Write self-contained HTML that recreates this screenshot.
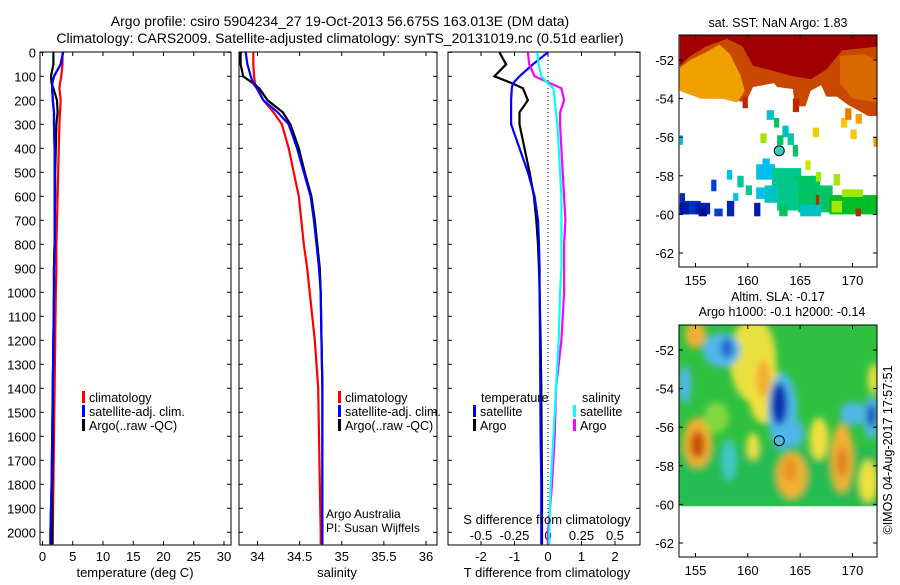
<!DOCTYPE html>
<html><head><meta charset="utf-8"><style>
body{margin:0;background:#fff;}
svg text{font-family:"Liberation Sans",sans-serif;fill:#000;}
</style></head><body>
<svg id="fig" width="900" height="580" viewBox="0 0 900 580" xmlns="http://www.w3.org/2000/svg">
<text x="340" y="26" font-size="14" text-anchor="middle">Argo profile: csiro 5904234_27 19-Oct-2013 56.675S 163.013E (DM data)</text>
<text x="340" y="43" font-size="14" text-anchor="middle">Climatology: CARS2009. Satellite-adjusted climatology: synTS_20131019.nc (0.51d earlier)</text>
<defs>
<clipPath id="c1"><rect x="40" y="52" width="191" height="493"/></clipPath>
<clipPath id="c2"><rect x="239" y="52" width="198" height="493"/></clipPath>
<clipPath id="c3"><rect x="448" y="52" width="192" height="493"/></clipPath>
<clipPath id="m1"><rect x="679" y="35" width="198" height="232"/></clipPath>
<clipPath id="m2"><rect x="679" y="325" width="198" height="232"/></clipPath>
<filter id="blur" x="-50%" y="-50%" width="200%" height="200%"><feGaussianBlur stdDeviation="3.5"/></filter>
</defs>
<g id="root"></g>
</svg>
<script>
// ---- profile data ----
const depths = [0,50,100,130,150,200,250,300,400,500,600,700,800,900,1000,1200,1400,1600,1800,2000,2050];
const tempClim = [3.3,3.3,3.1,2.9,2.8,3.0,2.9,2.8,2.7,2.6,2.5,2.4,2.3,2.3,2.2,2.1,2.0,1.9,1.8,1.7,1.7];
const tempSat  = [3.4,3.0,1.9,1.6,1.6,1.7,1.9,1.9,2.0,2.0,2.0,2.0,2.0,1.9,1.9,1.8,1.7,1.6,1.5,1.3,1.3];
const tempArgo = [1.8,1.8,1.4,1.5,1.8,2.4,2.5,2.3,2.2,2.1,2.1,2.0,2.0,1.9,1.9,1.8,1.7,1.7,1.6,1.6,1.6];
const salClim = [33.95,33.95,33.96,33.97,34.0,34.07,34.19,34.29,34.37,34.43,34.49,34.52,34.55,34.59,34.62,34.68,34.72,34.73,34.74,34.75,34.75];
const salSat  = [33.86,33.88,33.92,33.95,33.99,34.07,34.24,34.37,34.47,34.55,34.63,34.67,34.70,34.73,34.75,34.76,34.77,34.77,34.77,34.77,34.77];
const salArgo = [33.80,33.80,33.83,33.95,34.02,34.12,34.30,34.39,34.49,34.56,34.64,34.68,34.71,34.74,34.75,34.76,34.77,34.77,34.77,34.77,34.77];
const dTsat  = [0.0,-0.45,-0.85,-1.05,-1.08,-1.1,-1.1,-1.1,-0.85,-0.6,-0.4,-0.3,-0.27,-0.25,-0.25,-0.24,-0.23,-0.22,-0.2,-0.2,-0.2];
const dTargo = [-1.45,-1.25,-1.6,-1.05,-0.75,-0.6,-0.85,-0.85,-0.7,-0.55,-0.42,-0.35,-0.3,-0.27,-0.25,-0.22,-0.2,-0.19,-0.18,-0.18,-0.18];
const dSsat  = [-0.08,-0.07,-0.05,0.0,0.04,0.05,0.06,0.07,0.08,0.09,0.1,0.1,0.1,0.1,0.09,0.08,0.06,0.04,0.02,0.01,0.01];
const dSargo = [-0.15,-0.14,-0.1,0.02,0.1,0.12,0.09,0.09,0.1,0.11,0.12,0.13,0.12,0.12,0.12,0.1,0.06,0.05,0.03,0.0,0.0];
const depthTicks = [0,100,200,300,400,500,600,700,800,900,1000,1100,1200,1300,1400,1500,1600,1700,1800,1900,2000];
const tempTicks = [0,5,10,15,20,25,30];
const salTicks = [34,34.5,35,35.5,36];
const salTickLabels = ["34","34.5","35","35.5","36"];
const dTTicks = [-2,-1,0,1,2];
const dSTicks = [-0.5,-0.25,0,0.25,0.5];
const dSTickLabels = ["-0.5","-0.25","0","0.25","0.5"];
const latTicks = [-52,-54,-56,-58,-60,-62];
const lonTicks = [155,160,165,170];
// SST blocks: [lon, lat(top), widthDeg, heightDeg, value 0..1]
const sstBlocks = [
 [159.5,-53.9,0.5,0.6,0.95],[161.8,-54.6,0.7,0.5,0.35],[162.5,-55.0,0.5,0.5,0.45],[163.3,-55.4,0.6,0.6,0.35],
 [161.2,-55.8,0.6,0.5,0.6],[162.8,-55.9,0.6,0.5,0.45],[163.8,-55.8,0.6,0.6,0.4],[164.3,-56.4,0.5,0.6,0.45],
 [166.2,-55.5,0.6,0.5,0.72],[165.5,-57.2,0.5,0.5,0.65],[168.9,-55.0,0.6,0.5,0.75],[169.8,-55.6,0.6,0.5,0.75],
 [172.0,-56.0,0.5,0.5,0.8],[153.5,-55.9,0.3,0.5,0.3],[158.0,-57.7,0.5,0.5,0.3],
 [160.8,-57.4,1.8,0.8,0.3],[161.4,-57.1,0.7,0.4,0.3],[162.3,-57.6,2.8,1.1,0.42],[164.5,-58.0,2.4,0.8,0.45],
 [166.5,-57.8,0.5,0.5,0.6],[168.2,-57.9,0.6,0.6,0.6],[159.0,-58.0,0.6,0.6,0.4],
 [159.8,-58.5,0.6,0.5,0.42],[160.8,-58.6,0.8,0.6,0.3],[161.6,-58.5,1.2,0.9,0.35],[162.8,-58.2,2.0,1.6,0.42],
 [164.8,-58.5,3.3,1.4,0.45],[167.8,-59.0,4.6,1.0,0.5],[169.0,-58.7,2.0,0.4,0.6],[166.5,-59.0,0.3,0.5,0.95],
 [170.3,-59.7,0.5,0.4,0.95],[168.0,-59.3,1.0,0.6,0.6],[165.0,-59.5,2.0,0.6,0.35],[163.0,-59.5,0.8,0.6,0.45],
 [156.5,-58.2,0.5,0.6,0.12],[158.6,-58.9,0.5,0.4,0.3],
 [153.5,-58.9,0.5,1.1,0.08],[154.0,-59.3,1.5,0.7,0.1],[155.0,-59.4,1.4,0.6,0.06],[155.3,-59.7,0.8,0.4,0.03],
 [156.8,-59.7,0.8,0.4,0.12],[158.0,-59.3,0.7,0.8,0.07],[160.6,-59.4,0.6,0.7,0.05],[153.5,-59.4,0.9,0.6,0.05],
 [169.3,-54.5,0.6,0.6,0.85],[170.3,-54.8,0.6,0.5,0.8],[164.3,-54.0,0.6,0.7,0.95]
];
// SLA blobs: [lon, lat, rxDeg, ryDeg, colour]
const slaBlobs = [
 [160.5,-52.5,2.2,2.2,"#e8e040"],[161.5,-54.0,1.5,1.8,"#f0e040"],[161.5,-53.5,0.7,1.0,"#f0b030"],
 [155.2,-56.8,1.4,1.3,"#f0b030"],[155.2,-56.9,0.7,0.7,"#c85000"],
 [155.0,-51.2,1.0,0.7,"#f0b030"],[157.5,-52.0,1.8,0.9,"#50b8e8"],[158.0,-51.9,0.6,0.5,"#2060d0"],[154.0,-53.8,0.6,1.0,"#50b8e8"],
 [163.3,-55.2,1.4,2.0,"#50b8e8"],[163.0,-54.8,0.8,1.1,"#1030b0"],[164.4,-56.3,1.0,0.7,"#50b8e8"],
 [169.0,-57.6,1.1,1.8,"#f0b030"],[169.0,-57.8,0.5,0.8,"#e08020"],[166.8,-56.6,0.9,1.1,"#f0e040"],
 [164.2,-58.5,1.5,1.2,"#f0b030"],[164.0,-58.2,0.6,0.6,"#e89020"],
 [171.8,-55.5,0.8,1.1,"#50b8e8"],[171.8,-55.4,0.4,0.6,"#1030b0"],[170.0,-55.3,1.2,0.6,"#50b8e8"],
 [158.2,-57.7,0.7,1.1,"#40c8c8"],[160.5,-57.0,0.6,0.7,"#f0e040"],[171.5,-58.8,0.9,1.1,"#f0e040"],
 [157.0,-55.5,1.2,0.8,"#80d840"],[172.0,-53.5,0.5,0.8,"#f0e040"]
];

const NS="http://www.w3.org/2000/svg", root=document.getElementById('root');
function el(tag, attrs, parent){const e=document.createElementNS(NS,tag);for(const k in attrs)e.setAttribute(k,attrs[k]);(parent||root).appendChild(e);return e;}
function lin(d0,d1,r0,r1){return v=>r0+(v-d0)/(d1-d0)*(r1-r0);}
const yD = lin(0,2000,52.3,532.3);

function axesBox(x,y,w,h,name){
  const r=el('rect',{x:x,y:y,width:w,height:h,fill:'none',stroke:'#000','stroke-width':1});
  
  
}
function line(xs, ys, col, clip, name){
  let d=''; for(let i=0;i<xs.length;i++) d+=(i?'L':'M')+xs[i].toFixed(1)+','+ys[i].toFixed(1);
  const p=el('path',{d:d,fill:'none',stroke:col,'stroke-width':2.2,'clip-path':'url(#'+clip+')'});
  
  
}
function depthAxis(x0,x1,labels){
  depthTicks.forEach(d=>{const y=yD(d);
    el('line',{x1:x0,y1:y,x2:x0+4,y2:y,stroke:'#000'});el('line',{x1:x1-4,y1:y,x2:x1,y2:y,stroke:'#000'});
    if(labels){const t=el('text',{x:x0-4,y:y+5,'font-size':13,'text-anchor':'end'});t.textContent=d;
      
      }
  });
}
function xAxis(ticks,labels,sx,yb,yt,ly,inner){
  ticks.forEach((v,i)=>{const x=sx(v);
    el('line',{x1:x,y1:yb,x2:x,y2:yb-4,stroke:'#000'});
    if(!inner) el('line',{x1:x,y1:yt,x2:x,y2:yt+4,stroke:'#000'});
    const t=el('text',{x:x,y:ly,'font-size':13,'text-anchor':'middle'});t.textContent=labels[i];
    
    
  });
}
function label(x,y,txt,name,anchor,size){const t=el('text',{x:x,y:y,'font-size':size||13,'text-anchor':anchor||'middle'});t.textContent=txt;
  
  return t;}
function legendEntry(x,y,col,txt){el('rect',{x:x,y:y-11,width:3,height:12,fill:col});label(x+7,y,txt,'legend-entry','start',12.5);}

// Panel 1: temperature
const xT = lin(0,30,42.5,224);
axesBox(40,52,191,493,'temperature-axes');
depthAxis(40,231,true);
xAxis(tempTicks,tempTicks.map(String),xT,545,52,561);
line(tempClim.map(xT),depths.map(yD),'#f00','c1','temp-climatology-line');
line(tempSat.map(xT),depths.map(yD),'#00f','c1','temp-satellite-line');
line(tempArgo.map(xT),depths.map(yD),'#000','c1','temp-argo-line');
line(tempSat.map(xT),depths.map(yD),'#00f','c1','temp-satellite-line-top');
label(135,577,'temperature (deg C)','x-axis-title');
legendEntry(82,402,'#f00','climatology');legendEntry(82,416,'#00f','satellite-adj. clim.');legendEntry(82,430,'#000','Argo(..raw -QC)');

// Panel 2: salinity
const xS = lin(34,36,257.5,426);
axesBox(239,52,198,493,'salinity-axes');
depthAxis(239,437,false);
xAxis(salTicks,salTickLabels,xS,545,52,561);
line(salClim.map(xS),depths.map(yD),'#f00','c2','sal-climatology-line');
line(salArgo.map(xS),depths.map(yD),'#000','c2','sal-argo-line');
line(salSat.map(xS),depths.map(yD),'#00f','c2','sal-satellite-line');
label(337,577,'salinity','x-axis-title');
legendEntry(338,402,'#f00','climatology');legendEntry(338,416,'#00f','satellite-adj. clim.');legendEntry(338,430,'#000','Argo(..raw -QC)');
label(326,518,'Argo Australia','argo-australia-note','start',12);
label(326,532,'PI: Susan Wijffels','pi-note','start',12);

// Panel 3: differences
const xdT = lin(-2,2,481,615), xdS = lin(-0.5,0.5,481,615);
axesBox(448,52,192,493,'difference-axes');
depthAxis(448,640,false);
xAxis(dTTicks,dTTicks.map(String),xdT,545,52,561);
xAxis(dSTicks,dSTickLabels,xdS,545,52,540,true);
el('line',{x1:xdT(0),y1:52,x2:xdT(0),y2:545,stroke:'#000','stroke-dasharray':'1,3'});
line(dTargo.map(xdT),depths.map(yD),'#000','c3','dT-argo-line');
line(dTsat.map(xdT),depths.map(yD),'#00f','c3','dT-satellite-line');
line(dSargo.map(xdS),depths.map(yD),'#f0f','c3','dS-argo-line');
line(dSsat.map(xdS),depths.map(yD),'#0ff','c3','dS-satellite-line');
label(547,577,'T difference from climatology','x-axis-title');
label(547,524,'S difference from climatology','s-axis-title');
label(481,402,'temperature','legend-title','start',12.5);
label(582,402,'salinity','legend-title','start',12.5);
legendEntry(473,416,'#00f','satellite');legendEntry(473,430,'#000','Argo');
legendEntry(573,416,'#0ff','satellite');legendEntry(573,430,'#f0f','Argo');

// Maps
const xL = lin(155,170,695.5,852.5);
function jet(v){const st=[[0,[0,0,140]],[0.15,[0,80,220]],[0.3,[0,190,240]],[0.42,[0,200,140]],[0.5,[0,190,40]],[0.62,[190,240,0]],[0.75,[250,200,0]],[0.85,[240,120,0]],[1,[160,0,0]]];
  for(let i=1;i<st.length;i++){if(v<=st[i][0]){const a=st[i-1],b=st[i],f=(v-a[0])/(b[0]-a[0]);return 'rgb('+a[1].map((c,j)=>Math.round(c+f*(b[1][j]-c))).join(',')+')';}}return 'rgb(160,0,0)';}
function mapAxes(y0,clip,name){
  const yLat = lin(-52,-62,y0+25,y0+218);
  axesBox(679,y0,198,232,name);
  latTicks.forEach(l=>{const y=yLat(l);el('line',{x1:679,y1:y,x2:683,y2:y,stroke:'#000'});el('line',{x1:873,y1:y,x2:877,y2:y,stroke:'#000'});
    label(674,y+5,String(l),'lat-tick-label','end',13);});
  lonTicks.forEach(l=>{const x=xL(l);el('line',{x1:x,y1:y0+232,x2:x,y2:y0+228,stroke:'#000'});el('line',{x1:x,y1:y0,x2:x,y2:y0+4,stroke:'#000'});
    label(x,y0+250,String(l),'lon-tick-label','middle',13);});
  return yLat;
}
// SST map
(function(){
  const yLat = lin(-52,-62,60,253);
  const g=el('g',{'clip-path':'url(#m1)'});
  
  
  const P=pts=>pts.map(p=>xL(p[0])+','+yLat(p[1])).join(' ');
  el('polygon',{points:P([[153.5,-50.6],[172.5,-50.6],[172.5,-54.9],[171.5,-54.9],[170.5,-54.6],[169.5,-54.3],[168.5,-53.9],[167.5,-53.9],[167,-53.3],[166,-53.6],[165.5,-54.4],[164.5,-54.4],[164.3,-53.5],[162.8,-53.4],[162.5,-53.2],[160.5,-53.4],[159.8,-54.2],[158,-54.0],[156,-54.0],[153.5,-53.4]]),fill:'#c84800'},g);
  el('polygon',{points:P([[153.5,-50.6],[172.5,-50.6],[172.5,-51.3],[169,-51.5],[167.5,-52.5],[166,-53.0],[164,-52.8],[162,-52.5],[160.5,-52.3],[159.5,-51.3],[158,-50.9],[156,-51.3],[154.5,-51.8],[153.5,-52.3]]),fill:'#a00000'},g);
  el('polygon',{points:P([[153.5,-52.4],[154.5,-52.0],[156,-51.6],[157.3,-51.2],[158.3,-51.7],[159.3,-52.8],[159.7,-53.6],[159.0,-54.2],[157.5,-54.0],[155.5,-54.0],[153.5,-53.6]]),fill:'#f0a000'},g);
  el('polygon',{points:P([[168.8,-51.8],[171,-51.7],[172.5,-52.0],[172.5,-54.2],[170,-54.0],[168.8,-53.2]]),fill:'#d86800'},g);
  sstBlocks.forEach(b=>{const r=el('rect',{x:xL(b[0]),y:yLat(b[1]),width:b[2]*10.47,height:b[3]*19.3,fill:jet(b[4])},g);
    
    });
  el('circle',{cx:xL(163.0),cy:yLat(-56.7),r:5,fill:'#30d0c0',stroke:'#000'},g);
  mapAxes(35,'m1','sst-map-axes');
  label(778,27,'sat. SST: NaN Argo: 1.83','sst-map-title','middle',12.5);
})();
// SLA map
(function(){
  const yLat = lin(-52,-62,350,543);
  const g=el('g',{'clip-path':'url(#m2)'});
  
  
  el('rect',{x:679,y:325,width:198,height:yLat(-60.1)-325,fill:'#30c040'},g);
  const gb=el('g',{filter:'url(#blur)'},g);
  el('rect',{x:679,y:yLat(-57),width:198,height:yLat(-60.1)-yLat(-57),fill:'#20b860',opacity:0.6},gb);
  slaBlobs.forEach(b=>{const e=el('ellipse',{cx:xL(b[0]),cy:yLat(b[1]),rx:b[2]*10.47,ry:b[3]*19.3,fill:b[4]},gb);
    
    });
  el('rect',{x:679,y:yLat(-60.1),width:198,height:60,fill:'#fff'},g);
  el('circle',{cx:xL(163.0),cy:yLat(-56.7),r:5,fill:'none',stroke:'#000'},g);
  mapAxes(325,'m2','sla-map-axes');
  label(778,301,'Altim. SLA: -0.17','sla-map-title','middle',12.5);
  label(782,316,'Argo h1000: -0.1 h2000: -0.14','sla-map-subtitle','middle',12.5);
})();
const cp=label(0,0,'©IMOS 04-Aug-2017 17:57:51','copyright-note','middle',12.5);
cp.setAttribute('transform','translate(892,450) rotate(-90)');
</script>
</body></html>
